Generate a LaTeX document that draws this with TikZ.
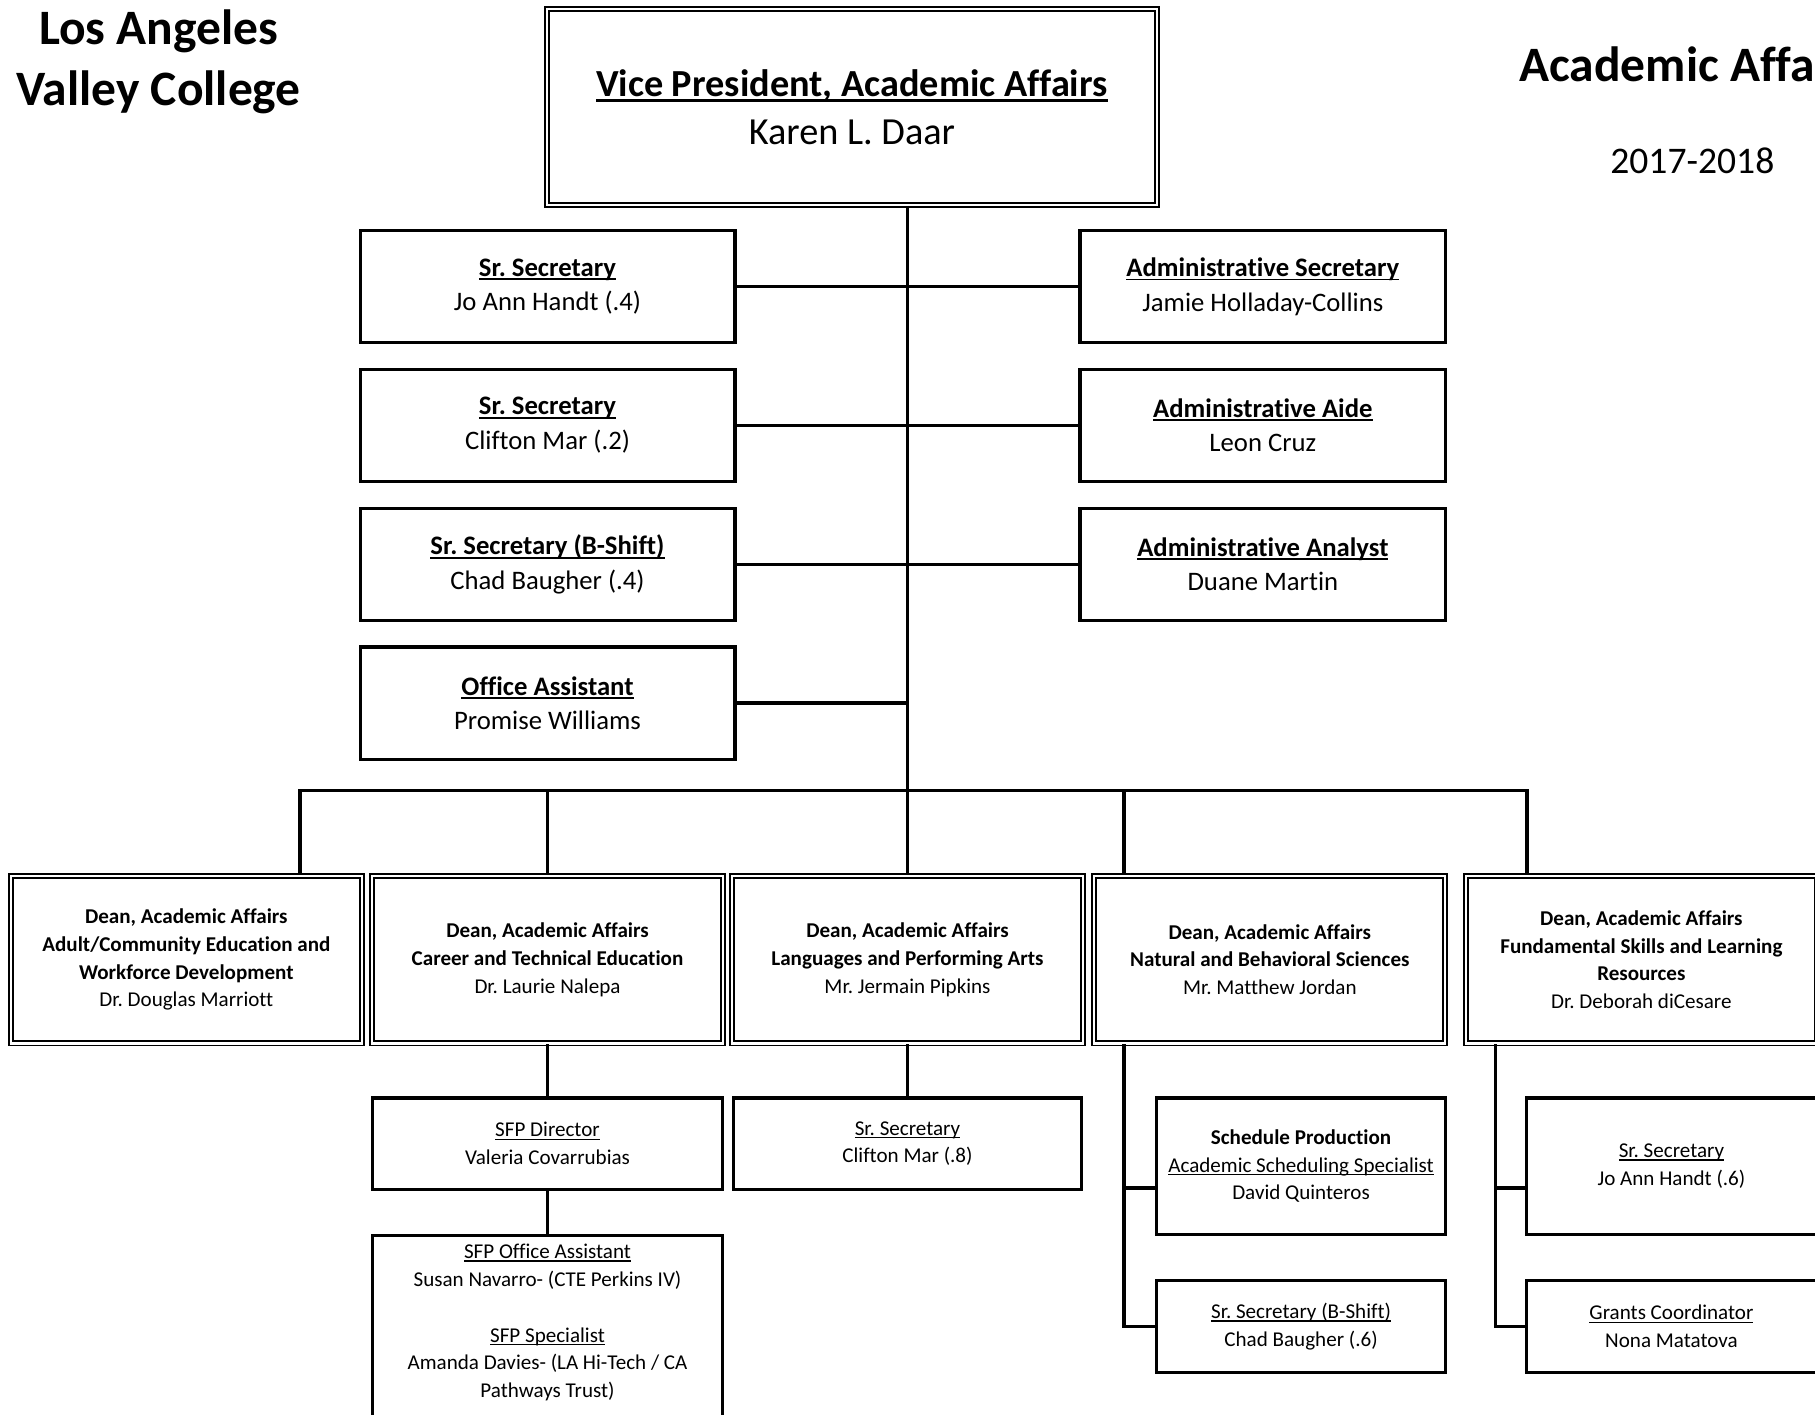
\documentclass[tikz,border=0pt]{standalone}
\usepackage{fontspec}
\setmainfont[Ligatures=NoCommon]{Carlito}
\frenchspacing
\newcommand{\undl}[1]{\setbox0\hbox{#1}\rlap{\rule[-0.15em]{\wd0}{0.07em}}\box0}

\begin{document}
\begin{tikzpicture}[x=0.011575cm,y=-0.011575cm]
        \tikzstyle{vpbox}=[rectangle,draw,double,line width=0.55pt,double distance=0.6pt,align=center,minimum width=6.11cm,minimum height=1.956cm,font=\fontsize{10.9}{13.8}\selectfont]
        \tikzstyle{staff}=[rectangle,draw,line width=0.9pt,align=center,minimum height=1.123cm,font=\fontsize{7.6}{9.85}\selectfont]
        \tikzstyle{dean}=[rectangle,draw,double,line width=0.55pt,double distance=0.6pt,align=center,minimum width=3.51cm,minimum height=1.678cm,font=\fontsize{6}{7.9}\selectfont]
        \tikzstyle{unit}=[rectangle,draw,line width=0.9pt,align=center,font=\fontsize{6}{7.9}\selectfont]
        \tikzstyle{link}=[line width=1pt]
        \useasboundingbox (0,0) rectangle (1568,1222);
        \clip (0,0) rectangle (1568,1222);
        % heading
        \node [anchor=north,align=center,inner sep=0pt,font=\bfseries\fontsize{14.1}{17.4}\selectfont] (college) at (137,8) {Los Angeles\\Valley College};
        \node [anchor=base west,inner sep=0pt,font=\bfseries\fontsize{14.1}{17}\selectfont] (dept) at (1312,70) {Academic Affairs};
        \node [anchor=base,inner sep=0pt,font=\fontsize{10.7}{13}\selectfont] (year) at (1462,150) {2017-2018};
        \node [vpbox] (vp) at (736,92.5) {\undl{\textbf{Vice President, Academic Affairs}}\\Karen L. Daar};
        % staff of the vice president
        \node [staff,minimum width=3.75cm] (ls1) at (473,247.5) {\undl{\textbf{Sr. Secretary}}\\Jo Ann Handt (.4)};
        \node [staff,minimum width=3.75cm] (ls2) at (473,367.5) {\undl{\textbf{Sr. Secretary}}\\Clifton Mar (.2)};
        \node [staff,minimum width=3.75cm] (ls3) at (473,487.5) {\undl{\textbf{Sr. Secretary (B-Shift)}}\\Chad Baugher (.4)};
        \node [staff,minimum width=3.75cm] (ls4) at (473,607.5) {\undl{\textbf{Office Assistant}}\\Promise Williams};
        \node [staff,minimum width=3.658cm] (rs1) at (1091,247.5) {\undl{\textbf{Administrative Secretary}}\\Jamie Holladay-Collins};
        \node [staff,minimum width=3.658cm] (rs2) at (1091,367.5) {\undl{\textbf{Administrative Aide}}\\Leon Cruz};
        \node [staff,minimum width=3.658cm] (rs3) at (1091,487.5) {\undl{\textbf{Administrative Analyst}}\\Duane Martin};
        \coordinate (bus) at (784,683);
        \draw [link] (vp.south -| bus) -- (bus);
        \draw [link] (ls1.east) -- (rs1.west);
        \draw [link] (ls2.east) -- (rs2.west);
        \draw [link] (ls3.east) -- (rs3.west);
        \draw [link] (ls4.east) -- (ls4.east -| bus);
        % deans
        \node [dean] (d1) at (161,829) {\textbf{Dean, Academic Affairs}\\\textbf{Adult/Community Education and}\\\textbf{Workforce Development}\\Dr. Douglas Marriott};
        \node [dean] (d2) at (473,829) {\textbf{Dean, Academic Affairs}\\\textbf{Career and Technical Education}\\Dr. Laurie Nalepa};
        \node [dean] (d3) at (784,829) {\textbf{Dean, Academic Affairs}\\\textbf{Languages and Performing Arts}\\Mr. Jermain Pipkins};
        \node [dean] (d4) at (1097,829) {\textbf{Dean, Academic Affairs}\\\textbf{Natural and Behavioral Sciences}\\Mr. Matthew Jordan};
        \node [dean] (d5) at (1418,829) {\textbf{Dean, Academic Affairs}\\\textbf{Fundamental Skills and Learning}\\\textbf{Resources}\\Dr. Deborah diCesare};
        \coordinate (j1) at (259,683);
        \coordinate (j4) at (971,683);
        \coordinate (j5) at (1319,683);
        \draw [link] (j1 |- d1.north) -- (j1) -- (j5) -- (j5 |- d5.north);
        \draw [link] (bus) -- (d2.north |- bus) -- (d2.north);
        \draw [link] (bus) -- (d3.north);
        \draw [link] (j4) -- (j4 |- d4.north);
        % units under the deans
        \node [unit,minimum width=3.507cm,minimum height=0.914cm] (sfpdir) at (473,988) {\undl{SFP Director}\\Valeria Covarrubias};
        \node [unit,minimum width=3.507cm,anchor=north,inner ysep=2.5pt,text depth=2cm] (sfpoff) at (473,1066) {\undl{SFP Office Assistant}\\Susan Navarro- (CTE Perkins IV)\\[7.9pt]\undl{SFP Specialist}\\Amanda Davies- (LA Hi-Tech / CA\\Pathways Trust)};
        \node [unit,minimum width=3.484cm,minimum height=0.914cm] (sec8) at (784,988) {\undl{Sr. Secretary}\\Clifton Mar (.8)};
        \node [unit,minimum width=2.894cm,minimum height=1.366cm] (sched) at (1124,1007.5) {\textbf{Schedule Production}\\\undl{Academic Scheduling Specialist}\\David Quinteros};
        \node [unit,minimum width=2.894cm,minimum height=0.914cm] (bshift) at (1124,1146) {\undl{Sr. Secretary (B-Shift)}\\Chad Baugher (.6)};
        \node [unit,minimum width=2.894cm,minimum height=1.366cm] (sec6) at (1444,1007.5) {\undl{Sr. Secretary}\\Jo Ann Handt (.6)};
        \node [unit,minimum width=2.894cm,minimum height=0.914cm] (grants) at (1444,1146) {\undl{Grants Coordinator}\\Nona Matatova};
        \draw [link] (d2) -- (sfpdir);
        \draw [link] (sfpdir) -- (sfpoff.north);
        \draw [link] (d3) -- (sec8);
        \coordinate (v5) at (1292,683);
        \coordinate (s4) at ([yshift=-0.22cm]sched.west);
        \coordinate (s5) at ([yshift=-0.22cm]sec6.west);
        \draw [link] (d4.south -| j4) |- (bshift.west);
        \draw [link] (s4) -- (s4 -| j4);
        \draw [link] (d5.south -| v5) |- (grants.west);
        \draw [link] (s5) -- (s5 -| v5);
    \end{tikzpicture}
\end{document}
